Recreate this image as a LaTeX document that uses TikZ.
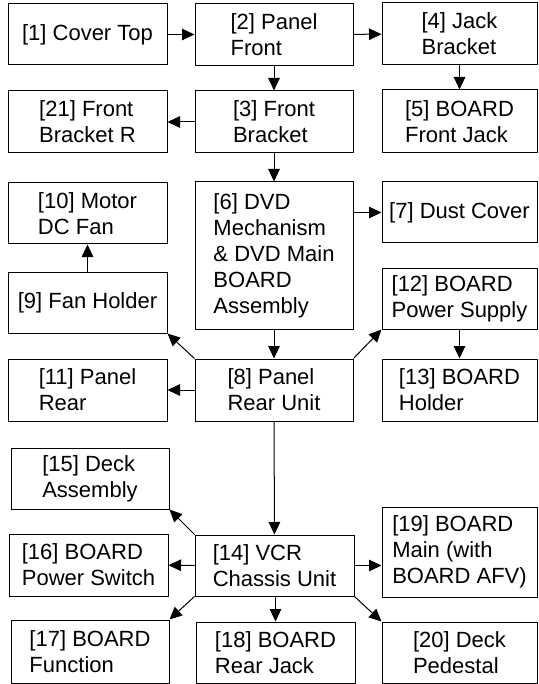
\documentclass[tikz,border=0pt]{standalone}
\usepackage{fontspec}
\setmainfont{Liberation Sans}
\usepackage{tikz}
\usetikzlibrary{arrows.meta}

\begin{document}
\begin{tikzpicture}[x=1pt, y=-1pt,
    part/.style={draw=black, fill=white, line width=1pt, align=left, inner sep=0pt,
      font=\fontsize{22}{26}\selectfont, minimum width=#1},
    part/.default=158pt,
    arr/.style={line width=1pt, -{Triangle[length=12.5pt, width=11.5pt]}}]
  \useasboundingbox (0,0) rectangle (538,684);

  % Fila superior
  \node[part=159pt, minimum height=61pt] (p1) at (87.5,34.5) {[1] Cover Top};
  \node[part, minimum height=62pt] (p2) at (274,34.5) {[2] Panel\\Front};
  \node[part=155pt, minimum height=62pt] (p4) at (459.5,34) {[4] Jack\\Bracket};
  \draw[arr] (p1) -- (p2);
  \draw[arr] (p2) -- (p4);

  \node[part=159pt, minimum height=62pt] (p21) at (87.5,122) {[21] Front\\Bracket R};
  \node[part, minimum height=62pt] (p3) at (274,122) {[3] Front\\Bracket};
  \node[part=155pt, minimum height=63pt] (p5) at (459.5,121.5) {[5] BOARD\\Front Jack};
  \draw[arr] (p2) -- (p3);
  \draw[arr] (p4) -- (p5);
  \draw[arr] (p3) -- (p21);

  % Unidad DVD
  \node[part=159pt, minimum height=61pt] (p10) at (87.5,213.5) {[10] Motor\\DC Fan};
  \node[part, minimum height=147pt] (p6) at (274,255.5) {[6] DVD\\Mechanism\\\& DVD Main\\BOARD\\Assembly};
  \node[part=155pt, minimum height=61pt] (p7) at (459.5,212.5) {[7] Dust Cover};
  \node[part=159pt, minimum height=61pt] (p9) at (87.5,302.5) {[9] Fan Holder};
  \node[part=155pt, minimum height=61pt] (p12) at (459.5,298.5) {[12] BOARD\\Power Supply};
  \draw[arr] (p3) -- (p6);
  \draw[arr] (p6.east |- p7) -- (p7);
  \draw[arr] (p9) -- (p10);

  % Panel trasero
  \node[part=159pt, minimum height=62pt] (p11) at (87.5,390) {[11] Panel\\Rear};
  \node[part, minimum height=62pt] (p8) at (274,390) {[8] Panel\\Rear Unit};
  \node[part=155pt, minimum height=62pt] (p13) at (459.5,390) {[13] BOARD\\Holder};
  \draw[arr] (p6) -- (p8);
  \draw[arr] (p8) -- (p11);
  \draw[arr] (p8.north west) -- (p9.south east);
  \draw[arr] (p8.north east) -- (p12.south west);
  \draw[arr] (p12) -- (p13);

  % Chasis VCR
  \node[part, minimum height=61pt] (p15) at (90,478.5) {[15] Deck\\Assembly};
  \node[part=159pt, minimum height=62pt] (p16) at (88.5,565) {[16] BOARD\\Power Switch};
  \node[part=159pt, minimum height=61pt] (p14) at (274.5,565.5) {[14] VCR\\Chassis Unit};
  \node[part=155pt, minimum height=90pt] (p19) at (459.5,552) {[19] BOARD\\Main (with\\BOARD AFV)};
  \node[part, minimum height=63pt] (p17) at (90,651.5) {[17] BOARD\\Function};
  \node[part=159pt, minimum height=61pt] (p18) at (275.5,652.5) {[18] BOARD\\Rear Jack};
  \node[part=155pt, minimum height=61pt] (p20) at (459.5,652.5) {[20] Deck\\Pedestal};
  \draw[arr] (p8) -- (p14);
  \draw[arr] (p14.north west) -- (p15.south east);
  \draw[arr] (p14) -- (p16);
  \draw[arr] (p14.east) -- (p14.east -| p19.west);
  \draw[arr] (p14.south west) -- (p17.north east);
  \draw[arr] (p14.south -| p18) -- (p18);
  \draw[arr] (p14.south east) -- (p20.north west);
\end{tikzpicture}
\end{document}
